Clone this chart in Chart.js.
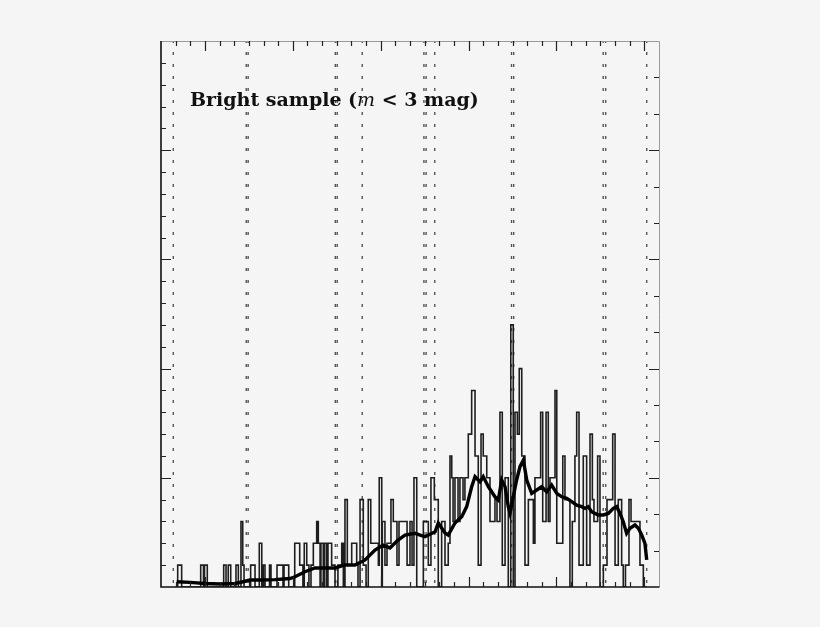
<!DOCTYPE html>
<html>
<head>
<meta charset="utf-8">
<script src="https://cdn.jsdelivr.net/npm/chart.js@4"></script>
<style>
  html, body { margin: 0; padding: 0; background: #f5f5f5; }
  #wrap { position: relative; width: 820px; height: 627px; }
  #label { position: absolute; left: 190px; top: 89px; font-family: "DejaVu Serif", serif; font-weight: bold; font-size: 19px; line-height: 20px; color: #111; white-space: nowrap; }
  #label i { font-weight: normal; }
</style>
</head>
<body>
<div id="wrap">
  <canvas id="c" width="820" height="627"></canvas>
  <div id="label">Bright sample (<i>m</i> &lt; 3 mag)</div>
</div>
<script>
// ---- data (x in axis units, y in counts) ----
const histEdges = [0.99,1.14,1.41,2.71,2.90,2.97,3.16,4.28,4.44,4.59,4.76,5.12,5.28,5.46,5.58,5.67,6.12,6.42,6.71,6.88,6.98,7.10,7.41,7.51,7.92,8.33,8.40,8.72,9.13,9.47,9.69,9.78,9.95,10.10,10.24,10.40,10.63,10.74,10.86,10.92,11.08,11.15,11.29,11.40,11.65,11.88,12.08,12.34,12.45,12.56,12.72,13.02,13.36,13.45,13.59,13.81,14.00,14.15,14.32,14.84,14.90,15.07,15.11,15.29,15.43,15.70,15.86,16.11,16.25,16.80,17.00,17.14,17.27,17.46,17.91,18.25,18.43,18.66,18.93,19.16,19.39,19.61,19.73,19.85,19.94,20.07,20.28,20.41,20.62,20.75,20.98,21.21,21.44,21.66,21.85,22.00,22.24,22.46,22.80,22.94,23.14,23.30,23.49,23.71,23.88,24.05,24.17,24.33,24.46,24.63,24.85,25.08,25.42,25.53,25.92,26.06,26.29,26.44,26.56,26.90,27.02,27.43,27.58,27.92,28.08,28.26,28.38,28.54,28.83,29.06,29.29,29.45,29.56,29.81,29.97,30.20,30.45,30.84,31.00,31.22,31.45,31.56,31.71,31.95,32.09,32.70,32.93,33.15];
const histCounts = [0,1,0,1,0,1,0,1,0,1,0,1,0,3,1,0,1,0,2,0,1,0,1,0,1,0,1,0,2,1,0,2,1,0,1,2,3,2,0,2,0,2,0,2,1,0,1,2,0,4,1,2,1,0,4,1,0,4,2,1,5,0,3,1,2,4,3,1,3,1,3,1,5,0,3,1,5,4,0,3,1,2,6,5,3,5,3,5,4,5,7,9,6,1,7,6,5,3,4,3,8,1,5,0,12,0,8,7,10,6,1,4,2,5,8,3,8,3,5,9,2,6,4,0,3,6,8,1,6,1,7,4,3,6,0,1,4,7,1,4,1,0,1,4,3,1,0,0];

const smoothX = [1.07,1.98,3.00,4.03,5.05,5.53,6.08,6.76,7.78,8.81,9.15,9.83,10.51,11.20,11.88,12.56,13.24,13.93,14.61,15.16,15.63,16.18,16.66,17.34,18.02,18.71,18.93,19.39,19.61,20.07,20.53,20.87,21.21,21.44,21.78,22.00,22.35,22.80,23.03,23.26,23.49,23.71,23.83,24.05,24.28,24.51,24.74,24.97,25.31,25.65,25.99,26.33,26.67,27.02,27.36,27.70,28.04,28.38,28.72,28.95,29.17,29.40,29.63,29.86,30.20,30.54,30.88,31.11,31.34,31.56,31.79,32.02,32.36,32.59,32.82,33.04,33.16];
const smoothY = [0.24,0.21,0.16,0.14,0.16,0.23,0.32,0.32,0.34,0.39,0.47,0.70,0.87,0.87,0.87,1.01,1.01,1.24,1.69,1.92,1.79,2.15,2.38,2.46,2.30,2.53,2.93,2.47,2.38,2.93,3.22,3.68,4.59,5.05,4.82,5.05,4.59,4.13,3.98,4.90,4.59,3.68,3.37,4.13,4.90,5.51,5.81,4.90,4.29,4.44,4.59,4.36,4.67,4.29,4.13,4.06,3.91,3.75,3.68,3.60,3.68,3.45,3.37,3.30,3.30,3.37,3.60,3.68,3.37,2.99,2.46,2.69,2.84,2.69,2.38,2.00,1.24];

const markerX = [0.84,5.82,5.95,11.90,12.03,13.74,17.95,18.10,18.69,23.93,24.08,30.19,30.36,33.16];

const xRange = [0, 34];
const yRange = [0, 25];
const xMajorEvery = 6, xMajorOffset = 3;
const yMajorEvery = 5;
const y2Range = [0, 15];
const y2MajorEvery = 3;

// ---- build datasets ----
const histData = histEdges.map((x, i) => ({ x: x, y: histCounts[i] }));
const smoothData = smoothX.map((x, i) => ({ x: x, y: smoothY[i] }));
const markerSets = markerX.map(x => ({
  type: 'line',
  data: [{ x: x, y: yRange[0] }, { x: x, y: yRange[1] }],
  borderColor: '#555', borderWidth: 1.4, borderDash: [3, 9], borderDashOffset: -4,
  pointRadius: 0, order: 3
}));

const frameTicks = {
  id: 'frameTicks',
  afterDraw(chart) {
    const ctx = chart.ctx, a = chart.chartArea;
    const xs = chart.scales.x, ys = chart.scales.y, y2 = chart.scales.y2;
    ctx.save();
    ctx.strokeStyle = '#9a9a9a'; ctx.lineWidth = 1;
    ctx.beginPath(); ctx.moveTo(a.left, a.top + 0.5); ctx.lineTo(a.right + 0.5, a.top + 0.5); ctx.lineTo(a.right + 0.5, a.bottom); ctx.stroke();
    ctx.strokeStyle = '#111'; ctx.lineWidth = 1.6;
    ctx.beginPath(); ctx.moveTo(a.left, a.top); ctx.lineTo(a.left, a.bottom); ctx.lineTo(a.right + 0.5, a.bottom); ctx.stroke();
    ctx.strokeStyle = '#222'; ctx.lineWidth = 1.2;
    ctx.beginPath();
    for (let v = xRange[0] + 1; v < xRange[1]; v++) {
      const p = Math.round(xs.getPixelForValue(v)) + 0.5;
      const len = ((v - xMajorOffset) % xMajorEvery === 0) ? 10 : 5;
      ctx.moveTo(p, a.top); ctx.lineTo(p, a.top + len);
      ctx.moveTo(p, a.bottom); ctx.lineTo(p, a.bottom - len);
    }
    for (let v = yRange[0] + 1; v < yRange[1]; v++) {
      const p = Math.round(ys.getPixelForValue(v)) + 0.5;
      const len = (v % yMajorEvery === 0) ? 10 : 5;
      ctx.moveTo(a.left, p); ctx.lineTo(a.left + len, p);
    }
    for (let v = y2Range[0] + 1; v < y2Range[1]; v++) {
      const p = Math.round(y2.getPixelForValue(v)) + 0.5;
      const len = (v % y2MajorEvery === 0) ? 10 : 5;
      ctx.moveTo(a.right, p); ctx.lineTo(a.right - len, p);
    }
    ctx.stroke();
    ctx.restore();
  }
};

new Chart(document.getElementById('c'), {
  type: 'line',
  data: {
    datasets: [
      { data: smoothData, borderColor: '#000', borderWidth: 3.4, pointRadius: 0, tension: 0, order: 0 },
      { data: histData, stepped: true, borderColor: '#1e1e1e', borderWidth: 1.6, pointRadius: 0, order: 1 },
      ...markerSets
    ]
  },
  options: {
    responsive: false, animation: false,
    layout: { padding: { left: 161, right: 161, top: 41, bottom: 40 } },
    plugins: { legend: { display: false }, tooltip: { enabled: false } },
    scales: {
      x: { type: 'linear', min: xRange[0], max: xRange[1], display: false },
      y: { type: 'linear', min: yRange[0], max: yRange[1], display: false },
      y2: { type: 'linear', position: 'right', min: y2Range[0], max: y2Range[1], display: false }
    }
  },
  plugins: [frameTicks]
});
</script>
</body>
</html>
